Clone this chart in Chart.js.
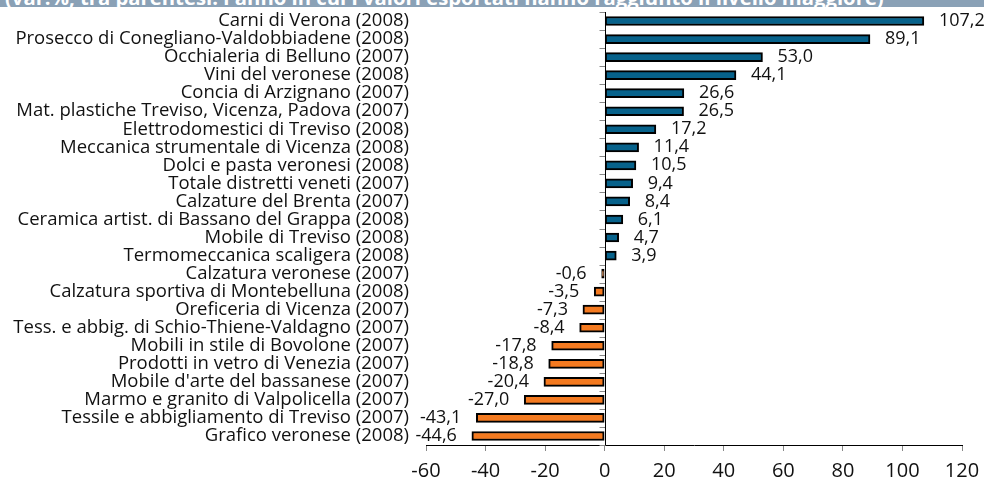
<!DOCTYPE html>
<html>
<head>
<meta charset="utf-8">
<script src="https://cdn.jsdelivr.net/npm/chart.js@4"></script>
<style>
    html, body { margin: 0; padding: 0; background: #fff; overflow: hidden; }
    #wrap { position: relative; width: 984px; height: 480px; }
    #chart { display: block; }
    #banner {
        position: absolute; left: 0; top: 0; width: 984px; height: 6.5px;
        overflow: hidden; background: #8aa1b6;
    }
    #banner span {
        position: absolute; left: 5px; top: -13px; white-space: nowrap;
        font: bold 20.3px "Open Sans", "Noto Sans", sans-serif; color: #fff;
        line-height: 20px;
    }
</style>
</head>
<body>
<div id="wrap">
    <canvas id="chart" width="984" height="480"></canvas>
    <div id="banner"><span id="bannerText"></span></div>
</div>
<script>
// Export distretti veneti – var.% rispetto all'anno di picco
var titleText = "(var.%, tra parentesi: l'anno in cui i valori esportati hanno raggiunto il livello maggiore)";

var categories = [
    'Carni di Verona (2008)',
    'Prosecco di Conegliano-Valdobbiadene (2008)',
    'Occhialeria di Belluno (2007)',
    'Vini del veronese (2008)',
    'Concia di Arzignano (2007)',
    'Mat. plastiche Treviso, Vicenza, Padova (2007)',
    'Elettrodomestici di Treviso (2008)',
    'Meccanica strumentale di Vicenza (2008)',
    'Dolci e pasta veronesi (2008)',
    'Totale distretti veneti (2007)',
    'Calzature del Brenta (2007)',
    'Ceramica artist. di Bassano del Grappa (2008)',
    'Mobile di Treviso (2008)',
    'Termomeccanica scaligera (2008)',
    'Calzatura veronese (2007)',
    'Calzatura sportiva di Montebelluna (2008)',
    'Oreficeria di Vicenza (2007)',
    'Tess. e abbig. di Schio-Thiene-Valdagno (2007)',
    'Mobili in stile di Bovolone (2007)',
    'Prodotti in vetro di Venezia (2007)',
    "Mobile d'arte del bassanese (2007)",
    'Marmo e granito di Valpolicella (2007)',
    'Tessile e abbigliamento di Treviso (2007)',
    'Grafico veronese (2008)'
];

var values = [
    107.2, 89.1, 53.0, 44.1, 26.6, 26.5, 17.2, 11.4, 10.5, 9.4, 8.4, 6.1,
    4.7, 3.9, -0.6, -3.5, -7.3, -8.4, -17.8, -18.8, -20.4, -27.0, -43.1, -44.6
];

var xTicks = [-60, -40, -20, 0, 20, 40, 60, 80, 100, 120];

var POS_COLOR = '#07628b';
var NEG_COLOR = '#f47a20';
var FONT = '"Open Sans", "Noto Sans", sans-serif';

document.getElementById('bannerText').textContent = titleText;

// ── Zero axis with small ticks between categories ─────────
var zeroAxisPlugin = {
    id: 'zeroAxis',
    afterDatasetsDraw: function (chart) {
        var ctx = chart.ctx;
        var xs = chart.scales.x, ys = chart.scales.y;
        var x0 = Math.round(xs.getPixelForValue(0)) + 0.5;
        ctx.save();
        ctx.strokeStyle = '#888';
        ctx.lineWidth = 1;
        for (var i = 0; i <= categories.length; i++) {
            var y = Math.round(ys.getPixelForValue(i - 0.5)) + 0.5;
            ctx.beginPath();
            ctx.moveTo(x0 - 6, y);
            ctx.lineTo(x0, y);
            ctx.stroke();
        }
        ctx.strokeStyle = '#000';
        ctx.beginPath();
        ctx.moveTo(x0, chart.chartArea.top);
        ctx.lineTo(x0, chart.chartArea.bottom);
        ctx.stroke();
        ctx.restore();
    }
};

// ── Value labels next to bars ─────────────────────────────
var valueLabelPlugin = {
    id: 'valueLabels',
    afterDatasetsDraw: function (chart) {
        var ctx = chart.ctx;
        var meta = chart.getDatasetMeta(0);
        ctx.save();
        ctx.font = '18px ' + FONT;
        ctx.fillStyle = '#111';
        ctx.textBaseline = 'middle';
        meta.data.forEach(function (bar, i) {
            var v = values[i];
            var txt = v.toFixed(1).replace('.', ',');
            if (v >= 0) {
                ctx.textAlign = 'left';
                ctx.fillText(txt, bar.x + 15, bar.y);
            } else {
                ctx.textAlign = 'right';
                ctx.fillText(txt, bar.x - 15, bar.y);
            }
        });
        ctx.restore();
    }
};

new Chart(document.getElementById('chart'), {
    type: 'bar',
    data: {
        labels: categories,
        datasets: [{
            data: values,
            backgroundColor: values.map(function (v) { return v >= 0 ? POS_COLOR : NEG_COLOR; }),
            borderColor: '#000',
            borderWidth: 2,
            borderSkipped: false,
            barThickness: 9,
            minBarLength: 3
        }]
    },
    options: {
        indexAxis: 'y',
        responsive: false,
        animation: false,
        layout: { padding: { top: 12, right: 22, bottom: 0, left: 0 } },
        plugins: {
            legend: { display: false },
            tooltip: { enabled: false }
        },
        scales: {
            x: {
                min: -60,
                max: 120,
                afterBuildTicks: function (scale) {
                    scale.ticks = xTicks.map(function (v) { return { value: v }; });
                },
                afterFit: function (scale) {
                    scale.height = 35;
                    scale.paddingLeft = 0;
                    scale.paddingRight = 0;
                },
                border: { display: true, color: '#000', width: 1 },
                grid: {
                    drawOnChartArea: false,
                    drawTicks: true,
                    tickLength: 6,
                    tickColor: '#888'
                },
                ticks: {
                    padding: 8,
                    color: '#111',
                    font: { family: FONT, size: 20 }
                }
            },
            y: {
                afterFit: function (scale) {
                    scale.width = 426;
                    scale.paddingTop = 0;
                    scale.paddingBottom = 0;
                },
                border: { display: false },
                grid: { display: false, drawTicks: false },
                ticks: {
                    autoSkip: false,
                    padding: 17,
                    color: '#111',
                    font: { family: FONT, size: 18.5 }
                }
            }
        }
    },
    plugins: [zeroAxisPlugin, valueLabelPlugin]
});
</script>
</body>
</html>
